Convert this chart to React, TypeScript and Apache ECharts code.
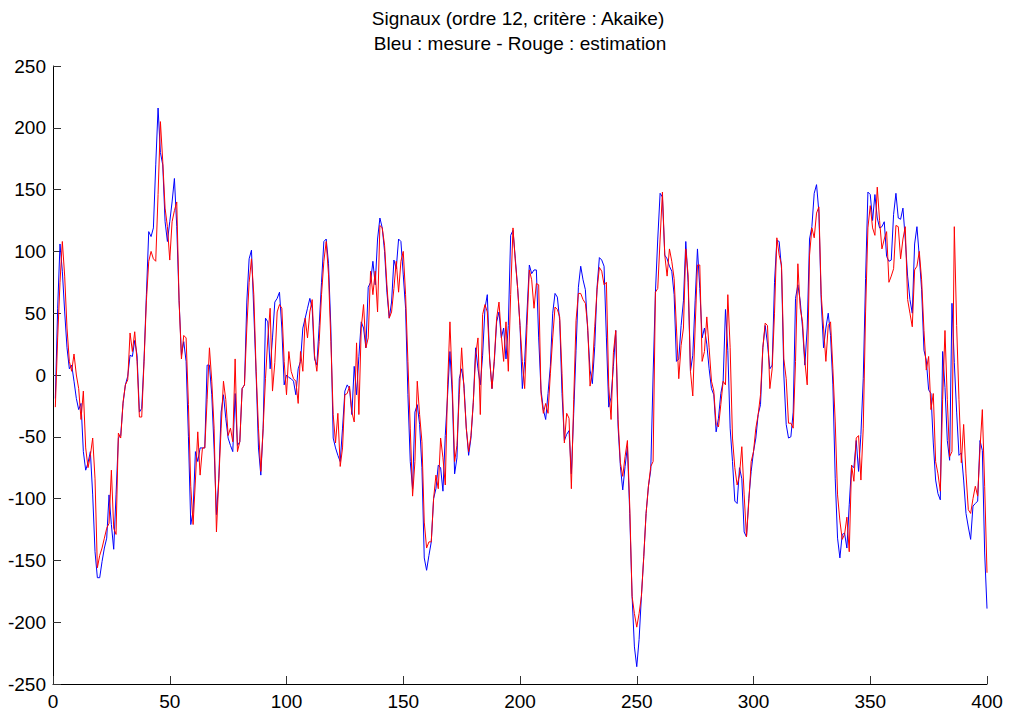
import React, { useEffect, useRef } from "react";
import * as echarts from "echarts";

const titleLine1 = "Signaux (ordre 12, critère : Akaike)";
const titleLine2 = "Bleu : mesure - Rouge : estimation";

// Blue: measured signal, samples 1..400
const mesure: number[] = [
  -19, 54, 106, 84, 51, 22, 5, 8, -5, -19,
  -28, -23, -62, -77, -71, -62, -97, -143, -164, -164,
  -151, -140, -132, -97, -121, -141, -97, -51, -49, -23,
  -8, -1, 16, 15, 28, 16, -30, -27, 13, 65,
  116, 112, 119, 170, 216, 180, 170, 124, 108, 124,
  140, 159, 120, 60, 16, 27, 11, -50, -121, -110,
  -62, -70, -59, -59, -59, 8, 8, -16, -60, -113,
  -84, -30, -16, -35, -51, -57, -62, -15, -57, -54,
  -11, -8, 59, 94, 101, 51, 0, -59, -81, -43,
  46, 43, 5, 30, 59, 62, 67, 38, -8, 0,
  -2, -3, -5, -16, 5, 11, 38, 46, 54, 62,
  54, 13, 8, 40, 75, 108, 110, 90, 38, -51,
  -59, -65, -70, -43, -13, -8, -11, -32, 7, -16,
  15, 43, 38, 22, 71, 75, 92, 73, 110, 127,
  119, 100, 67, 46, 59, 93, 86, 110, 108, 81,
  54, -16, -70, -92, -30, -24, -40, -75, -148, -158,
  -146, -135, -100, -92, -73, -75, -94, -49, -16, 19,
  -16, -80, -67, -3, 5, -8, -43, -65, -51, -22,
  22, 5, -8, 16, 54, 65, 13, -11, 11, 43,
  51, 30, 38, 13, 40, 113, 117, 94, 70, 40,
  -11, 11, 51, 89, 82, 85, 85, 30, -12, -28,
  -36, -15, 7, 50, 66, 63, 44, -15, -53, -48,
  -45, -80, -31, 20, 71, 88, 77, 69, 36, 4,
  -7, 23, 71, 95, 93, 88, 30, -26, -18, 7,
  36, -42, -74, -93, -74, -58, -112, -179, -220, -236,
  -214, -179, -147, -112, -90, -77, 0, 67, 110, 147,
  144, 97, 94, 88, 84, 65, 11, 13, 40, 60,
  108, 75, 3, 16, 60, 102, 70, 30, 38, 25,
  5, -11, -16, -46, -35, -15, -5, 53, 20, -43,
  -70, -102, -104, -75, -84, -127, -131, -100, -78, -62,
  -51, -32, -24, 22, 40, 25, 5, 8, 75, 109,
  108, 86, 0, -40, -51, -50, -30, 62, 73, 60,
  38, 8, 38, 110, 120, 147, 154, 132, 60, 22,
  38, 50, 32, -8, -84, -132, -148, -129, -128, -140,
  -105, -73, -75, -53, -78, -48, -3, 78, 148, 146,
  125, 146, 127, 119, 120, 124, 96, 92, 93, 130,
  147, 127, 126, 135, 110, 80, 61, 50, 106, 120,
  96, 69, 20, 12, -12, -15, -55, -85, -96, -101,
  19, -10, -53, -69, 58, 10, -30, -65, -63, -85,
  -112, -123, -133, -106, -104, -102, -53, -61, -144, -189,
];

// Red: estimated signal, samples 1..400
const estimation: number[] = [
  -26, 30, 75, 108, 80, 38, 11, 3, 17, 0,
  -11, -36, -13, -59, -75, -65, -51, -84, -156, -146,
  -140, -132, -124, -120, -77, -124, -129, -47, -51, -22,
  -8, -4, 34, 19, 35, 11, -34, -34, 11, 60,
  92, 100, 94, 92, 146, 205, 173, 135, 120, 93,
  124, 133, 140, 60, 13, 32, 30, -24, -90, -121,
  -85, -46, -81, -59, -59, -20, 22, -5, -43, -127,
  -85, -43, -5, -20, -49, -43, -54, 13, -62, -54,
  -11, -8, 38, 75, 94, 65, 3, -43, -78, -43,
  -3, 30, 54, -13, 10, 51, 57, 54, 11, -16,
  19, 3, -3, -5, -23, 19, 3, 46, 30, 51,
  61, 16, 3, 27, 65, 92, 108, 81, 27, -32,
  -55, -31, -74, -59, -16, -15, -9, -30, -38, 26,
  -32, 38, 57, 22, 30, 84, 65, 84, 51, 121,
  119, 105, 73, 46, 51, 70, 92, 67, 92, 100,
  65, 11, -43, -98, -70, -5, -32, -54, -119, -140,
  -135, -135, -100, -81, -92, -51, -67, -89, -8, 43,
  -8, -70, -57, -16, 22, -11, -43, -62, -49, -22,
  16, 30, -32, 49, 57, 51, 13, -11, 13, 46,
  59, 32, 11, 43, 3, 65, 119, 92, 70, 40,
  11, -11, 40, 85, 77, 54, 74, 73, -15, -31,
  -23, -31, 1, 30, 55, 53, 47, 1, -55, -31,
  -35, -92, -20, 44, 66, 66, 61, 58, 39, -9,
  4, 39, 69, 87, 84, 73, 75, -9, -36, 18,
  36, -36, -71, -82, -66, -53, -106, -179, -193, -204,
  -193, -179, -147, -112, -90, -74, -70, 67, 70, 110,
  148, 97, 80, 102, 92, 78, 38, -3, 24, 38,
  102, 81, 3, -17, 38, 89, 89, 11, 19, 47,
  22, -5, -13, -40, -42, -24, -5, -8, 65, 22,
  -51, -75, -89, -81, -58, -97, -131, -102, -70, -62,
  -43, -32, -16, 22, 42, 40, -11, 5, 50, 111,
  97, 89, 13, -3, -39, -39, -43, 11, 90, 54,
  43, 11, -8, 97, 119, 111, 131, 136, 65, 38,
  11, 40, 43, 5, -38, -97, -118, -133, -129, -115,
  -143, -73, -86, -51, -49, -85, -43, 51, 119, 137,
  119, 113, 152, 125, 102, 110, 116, 75, 80, 86,
  121, 120, 94, 110, 120, 61, 50, 39, 85, 88,
  100, 77, 36, 4, 15, -28, -15, -70, -80, -94,
  -20, 36, -20, -66, -62, 120, 40, -20, -71, -40,
  -80, -109, -112, -100, -90, -98, -60, -28, -90, -160,
];

const xRange = [0, 400];
const xStep = 50;
const yRange = [-250, 250];
const yStep = 50;

const FONT = "'Liberation Sans', Arial, Helvetica, sans-serif";
const FS = 19;

export default function App() {
  const ref = useRef<HTMLDivElement>(null);

  useEffect(() => {
    if (!ref.current) return;
    const chart = echarts.init(ref.current, undefined, { renderer: "svg" });
    const toPairs = (arr: number[]) => arr.map((v, i) => [i + 1, v]);
    const axisCommon = {
      axisLine: { show: true, onZero: false, lineStyle: { color: "#000", width: 1 } },
      axisTick: { show: true, inside: true, length: 8, lineStyle: { color: "#333", width: 1 } },
      splitLine: { show: false },
    };
    chart.setOption({
      animation: false,
      backgroundColor: "#fff",
      grid: { left: 53, right: 22, top: 66, bottom: 34, containLabel: false },
      graphic: [
        {
          type: "text",
          x: 518,
          y: 18,
          style: {
            text: titleLine1,
            align: "center",
            verticalAlign: "middle",
            fontSize: FS,
            fontFamily: FONT,
            fill: "#000",
          },
        },
        {
          type: "text",
          x: 520,
          y: 43,
          style: {
            text: titleLine2,
            align: "center",
            verticalAlign: "middle",
            fontSize: FS,
            fontFamily: FONT,
            fill: "#000",
          },
        },
      ],
      xAxis: {
        type: "value",
        min: xRange[0],
        max: xRange[1],
        interval: xStep,
        ...axisCommon,
        axisLabel: { color: "#000", fontSize: FS, fontFamily: FONT, margin: 8 },
      },
      yAxis: {
        type: "value",
        min: yRange[0],
        max: yRange[1],
        interval: yStep,
        ...axisCommon,
        axisLabel: { color: "#000", fontSize: FS, fontFamily: FONT, margin: 7 },
      },
      series: [
        {
          name: "mesure",
          type: "line",
          data: toPairs(mesure),
          showSymbol: false,
          symbol: "none",
          lineStyle: { color: "#0000ff", width: 1 },
          itemStyle: { color: "#0000ff" },
        },
        {
          name: "estimation",
          type: "line",
          data: toPairs(estimation),
          showSymbol: false,
          symbol: "none",
          lineStyle: { color: "#ff0000", width: 1 },
          itemStyle: { color: "#ff0000" },
        },
      ],
    });
    return () => chart.dispose();
  }, []);

  return (
    <div
      ref={ref}
      style={{ position: "fixed", left: 0, top: 0, width: 1009, height: 718, background: "#fff" }}
    />
  );
}
